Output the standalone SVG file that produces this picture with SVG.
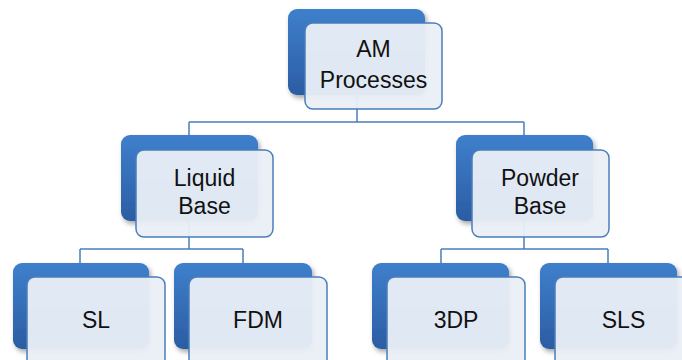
<svg xmlns="http://www.w3.org/2000/svg" width="682" height="360" viewBox="0 0 682 360">
<style>
.back{fill:url(#bg);filter:url(#sh)}
.front{fill:#eaeff7;fill-opacity:0.95;stroke:#4a7ebb;stroke-width:1.5}
.lbl{font-family:"Liberation Sans",Arial,sans-serif;font-size:23px;fill:#111;text-anchor:middle}
.con{fill:none;stroke:#4a7ebb;stroke-width:1.5}
</style>
<defs>
<linearGradient id="bg" x1="0" y1="0" x2="0" y2="1">
<stop offset="0" stop-color="#3f7fcc"/>
<stop offset="1" stop-color="#2b5da3"/>
</linearGradient>
<filter id="sh" x="-20%" y="-20%" width="140%" height="140%">
<feGaussianBlur in="SourceAlpha" stdDeviation="2.5"/>
<feOffset dx="2" dy="3" result="b"/>
<feFlood flood-color="#000" flood-opacity="0.35"/>
<feComposite in2="b" operator="in"/>
<feMerge><feMergeNode/><feMergeNode in="SourceGraphic"/></feMerge>
</filter>
</defs>
<g id="connectors">
<path class="con" d="M357,95 V122 M189,122 H524 M189,122 V135 M524,122 V135"/>
<path class="con" d="M189,221 V249 M80,249 H243 M80,249 V263 M243,249 V263"/>
<path class="con" d="M524,221 V249 M441,249 H608 M441,249 V263 M608,249 V263"/>
</g>
<g id="am">
<rect class="back" x="288" y="9" width="137" height="86" rx="9"/>
<rect class="front" x="305" y="23" width="137" height="86" rx="8"/>
<text class="lbl" x="373.5" y="57">AM</text>
<text class="lbl" x="373.5" y="88">Processes</text>
</g>
<g id="liquid">
<rect class="back" x="121" y="135" width="137" height="86" rx="9"/>
<rect class="front" x="136" y="150" width="137" height="87" rx="8"/>
<text class="lbl" x="204.5" y="186">Liquid</text>
<text class="lbl" x="204.5" y="214">Base</text>
</g>
<g id="powder">
<rect class="back" x="456" y="135" width="137" height="86" rx="9"/>
<rect class="front" x="472" y="150" width="137" height="87" rx="8"/>
<text class="lbl" x="540" y="186">Powder</text>
<text class="lbl" x="540" y="214">Base</text>
</g>
<g id="sl">
<rect class="back" x="13" y="263" width="136" height="86" rx="9"/>
<rect class="front" x="27" y="277" width="138" height="90" rx="8"/>
<text class="lbl" x="96" y="328">SL</text>
</g>
<g id="fdm">
<rect class="back" x="174" y="263" width="138" height="86" rx="9"/>
<rect class="front" x="189" y="277" width="138" height="90" rx="8"/>
<text class="lbl" x="258" y="328">FDM</text>
</g>
<g id="tdp">
<rect class="back" x="372" y="263" width="137" height="86" rx="9"/>
<rect class="front" x="387" y="277" width="138" height="90" rx="8"/>
<text class="lbl" x="456" y="328">3DP</text>
</g>
<g id="sls">
<rect class="back" x="540" y="263" width="137" height="86" rx="9"/>
<rect class="front" x="555" y="277" width="138" height="90" rx="8"/>
<text class="lbl" x="623.5" y="328">SLS</text>
</g>
</svg>
